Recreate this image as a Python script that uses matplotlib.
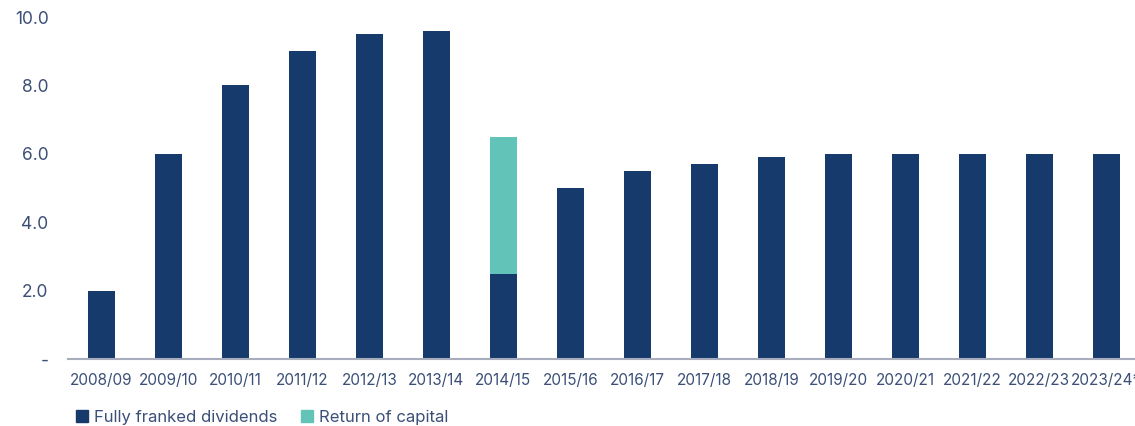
import matplotlib
matplotlib.use("Agg")
import matplotlib.pyplot as plt
from matplotlib.patches import Patch

plt.rcParams['font.family'] = ['Inter', 'DejaVu Sans']

years = ["2008/09", "2009/10", "2010/11", "2011/12", "2012/13", "2013/14", "2014/15",
         "2015/16", "2016/17", "2017/18", "2018/19", "2019/20", "2020/21", "2021/22",
         "2022/23", "2023/24*"]
franked = [2.0, 6.0, 8.0, 9.0, 9.5, 9.6, 2.5, 5.0, 5.5, 5.7, 5.9, 6.0, 6.0, 6.0, 6.0, 6.0]
capital = [0, 0, 0, 0, 0, 0, 4.0, 0, 0, 0, 0, 0, 0, 0, 0, 0]
yticks = [0, 2, 4, 6, 8, 10]
ytick_labels = ["-", "2.0", "4.0", "6.0", "8.0", "10.0"]

navy = "#163a6c"
teal = "#62c4b8"
txt = "#3b4f78"

fig = plt.figure(figsize=(11.35, 4.26), dpi=100)
ax = fig.add_axes([68/1135, 67/426, 1 - 68/1135, (359-17)/426])
x = list(range(len(years)))
ax.bar(x, franked, width=0.4, color=navy, zorder=2)
ax.bar(x, capital, width=0.4, bottom=franked, color=teal, zorder=2)
ax.set_xlim(-0.5, 15.43)
ax.set_ylim(0, 10)
ax.set_yticks(yticks)
ax.set_yticklabels(ytick_labels)
ax.set_xticks(x)
ax.set_xticklabels(years)
for s in ["top", "right", "left"]:
    ax.spines[s].set_visible(False)
ax.spines["bottom"].set_color("#a8adbd")
ax.spines["bottom"].set_linewidth(1.5)
ax.tick_params(axis="both", length=0, colors=txt)
ax.tick_params(axis="y", labelsize=12.5, pad=14)
ax.tick_params(axis="x", labelsize=11, pad=10)

handles = [Patch(color=navy, label="Fully franked dividends"),
           Patch(color=teal, label="Return of capital")]
fig.legend(handles=handles, loc="lower left", bbox_to_anchor=(61/1135, -0.033), ncol=2,
           frameon=False, fontsize=12, handlelength=0.7, handleheight=0.7,
           handletextpad=0.4, columnspacing=1.4, labelcolor=txt)

fig.savefig("out.png", dpi=100)
